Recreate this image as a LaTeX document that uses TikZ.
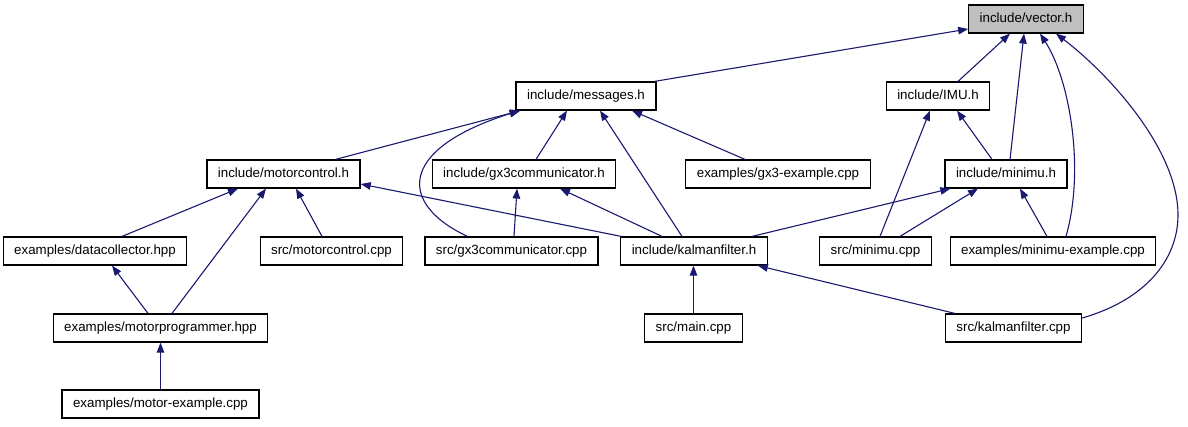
\documentclass[tikz,border=0pt]{standalone}
\usepackage{fontspec}
\setmainfont{Liberation Sans}
\usetikzlibrary{arrows.meta,calc}
\definecolor{edgeblue}{HTML}{191970}
\definecolor{rootgray}{HTML}{BFBFBF}
\begin{document}
\begin{tikzpicture}[x=1pt,y=-1pt,
  box/.style={draw=black, line width=1.2pt, fill=white, rectangle,
    minimum height=28pt, inner xsep=11pt, inner ysep=0pt,
    text height=9.6pt, text depth=2.8pt,
    font=\fontsize{13.33}{16}\selectfont},
  root/.style={box, fill=rootgray},
  dep/.style={draw=edgeblue, line width=1.1pt, -{Triangle[length=10pt,width=7.5pt]}}]
\useasboundingbox (0,0) rectangle (1188,427);

% nodes
\node[root] (vec)    at (1026,19)   {include/vector.h};
\node[box]  (msg)    at (586,96)    {include/messages.h};
\node[box]  (imu)    at (938,96)    {include/IMU.h};
\node[box]  (mc)     at (283.5,174) {include/motorcontrol.h};
\node[box]  (gxh)    at (524,174)   {include/gx3communicator.h};
\node[box]  (gxe)    at (778,174)   {examples/gx3-example.cpp};
\node[box]  (minh)   at (1006,174)  {include/minimu.h};
\node[box]  (dc)     at (95,251)    {examples/datacollector.hpp};
\node[box]  (mccpp)  at (331.5,251) {src/motorcontrol.cpp};
\node[box]  (gxcpp)  at (511.5,251) {src/gx3communicator.cpp};
\node[box]  (kfh)    at (694,251)   {include/kalmanfilter.h};
\node[box]  (mincpp) at (875.5,251) {src/minimu.cpp};
\node[box]  (minex)  at (1053,251)  {examples/minimu-example.cpp};
\node[box]  (mprog)  at (160.5,328) {examples/motorprogrammer.hpp};
\node[box]  (mainc)  at (693.5,328) {src/main.cpp};
\node[box]  (kfcpp)  at (1013.5,328){src/kalmanfilter.cpp};
\node[box]  (mex)    at (160.5,404) {examples/motor-example.cpp};

% edges to vector.h
\draw[dep] ($(msg.north east)+(-2,0)$) -- ($(vec.west)+(0,10)$);
\draw[dep] ($(imu.north)+(20,0)$) -- ($(vec.south)+(-16,0)$);
\draw[dep] ($(minh.north)+(4,0)$) -- ($(vec.south)+(-2,0)$);
\draw[dep] ($(minex.north)+(13,0)$) .. controls (1085,170) and (1070,80) .. ($(vec.south)+(14,0)$);
\draw[dep] ($(kfcpp.east)+(0,-10)$) .. controls (1145,300) and (1178,260) .. (1178,215)
  .. controls (1178,150) and (1110,75) .. ($(vec.south)+(30,0)$);

% edges to messages.h
\draw[dep] ($(mc.north)+(52,0)$) -- ($(msg.south west)+(5,0)$);
\draw[dep] ($(gxcpp.north)+(-44,0)$) .. controls (400,205) and (395,150) .. ($(msg.south west)+(4,0)$);
\draw[dep] ($(gxh.north)+(12,0)$) -- ($(msg.south)+(-19,0)$);
\draw[dep] ($(kfh.north)+(-12,0)$) -- ($(msg.south)+(14,0)$);
\draw[dep] ($(gxe.north)+(-33,0)$) -- ($(msg.south)+(46,0)$);

% edges to IMU.h
\draw[dep] ($(minh.north)+(-14,0)$) -- ($(imu.south)+(19,0)$);
\draw[dep] ($(mincpp.north)+(4.5,0)$) -- ($(imu.south)+(-8,0)$);

% edges to motorcontrol.h
\draw[dep] ($(dc.north)+(27,0)$) -- ($(mc.south)+(-45.5,0)$);
\draw[dep] ($(mccpp.north)+(-9.5,0)$) -- ($(mc.south)+(12.5,0)$);
\draw[dep] ($(mprog.north)+(11.5,0)$) -- ($(mc.south)+(-17.5,0)$);
\draw[dep] ($(kfh.north west)+(1,0)$) -- ($(mc.east)+(0,10)$);

% edges to gx3communicator.h
\draw[dep] ($(gxcpp.north)+(2.5,0)$) -- ($(gxh.south)+(-7,0)$);
\draw[dep] ($(kfh.north)+(-32,0)$) -- ($(gxh.south)+(36,0)$);

% edges to minimu.h
\draw[dep] ($(kfh.north)+(58,0)$) -- ($(minh.south west)+(6,0)$);
\draw[dep] ($(mincpp.north)+(24.5,0)$) -- ($(minh.south)+(-28,0)$);
\draw[dep] ($(minex.north)+(-6,0)$) -- ($(minh.south)+(14,0)$);

% edges to kalmanfilter.h
\draw[dep] (mainc.north) -- ($(kfh.south)+(-0.5,0)$);
\draw[dep] ($(kfcpp.north west)+(10,0)$) -- ($(kfh.south east)+(-10,0)$);

% edges to datacollector / motorprogrammer
\draw[dep] ($(mprog.north)+(-12.5,0)$) -- ($(dc.south)+(17,0)$);
\draw[dep] (mex.north) -- (mprog.south);
\end{tikzpicture}
\end{document}
